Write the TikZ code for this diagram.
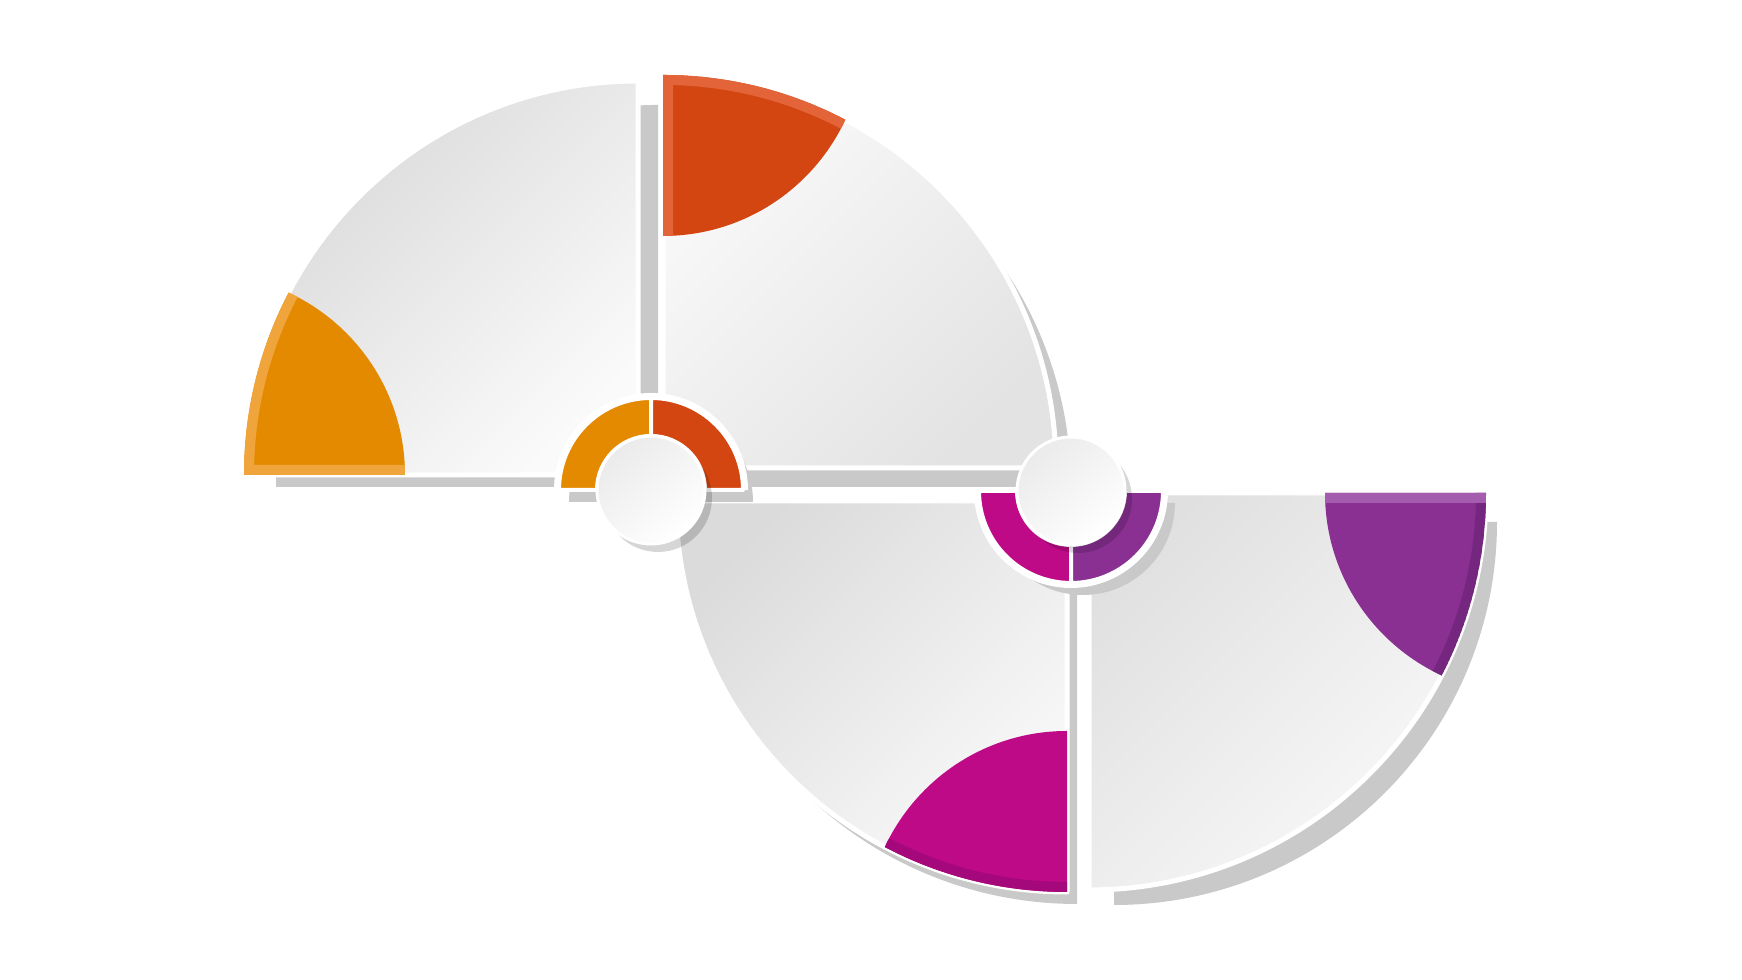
\documentclass[tikz,border=0pt]{standalone}
\usepackage{tikz}
\definecolor{orng}{HTML}{E38A00}
\definecolor{orngrim}{HTML}{F0A43C}
\definecolor{rd}{HTML}{D34511}
\definecolor{rdrim}{HTML}{E4643A}
\definecolor{mgnt}{HTML}{BE0A86}
\definecolor{mgntrim}{HTML}{A5087B}
\definecolor{prpl}{HTML}{8A3093}
\definecolor{prplrim}{HTML}{A35CAE}
\definecolor{prpldark}{HTML}{75277F}
\definecolor{shd}{HTML}{C9C9C9}
% quarters
\def \QA{(638,505) -- (244,505) arc[start angle=180, end angle=90, radius=394] -- cycle}
\def \QB{(663,512) -- (663,905) arc[start angle=90, end angle=0, radius=393] -- cycle}
\def \QC{(1067,479) -- (676,479) arc[start angle=180, end angle=270, radius=391] -- cycle}
\def \QD{(1089,487) -- (1089,90) arc[start angle=270, end angle=360, radius=397] -- cycle}
% their shadows
\def \SA{(658,493) -- (276,493) arc[start angle=180, end angle=90, radius=382] -- cycle}
\def \SB{(681,493) -- (681,883) arc[start angle=90, end angle=0, radius=390] -- cycle}
\def \SC{(1077,466) -- (687,466) arc[start angle=180, end angle=270, radius=390] -- cycle}
\def \SD{(1114,458) -- (1114,75) arc[start angle=270, end angle=360, radius=383] -- cycle}
% colour cuts
\def \CA{(204,505) circle (201)}
\def \CB{(663,945) circle (201)}
\def \CC{(1067,48) circle (201)}
\def \CD{(1526,487) circle (201)}
% hubs
\def \HubL{(651,490) circle (54)}
\def \HubR{(1071,489) circle (54)}
\def \RingL{(559,490) arc[start angle=180, end angle=0, radius=92] -- cycle}
\def \RingR{(979,489) arc[start angle=180, end angle=360, radius=92] -- cycle}
\tikzset{
  panel/.style={draw=white, line width=0.05cm, line join=round},
  rim/.style={line width=0.2cm},
  hub/.style={top color=black!8, bottom color=white, shading angle=40, draw=white, line width=0.03cm},
  hubshadow/.style={black, opacity=.16, shift={(7,-8)}},
  ringpart/.style={draw=white, line width=0.04cm, line join=round}
}

\begin{document}
\begin{tikzpicture}[x=0.01cm, y=0.01cm]
\useasboundingbox (0,0) rectangle (1742,980);
\fill[white] (0,0) rectangle (1742,980);
% shadows
\fill[shd] \SA;
\fill[shd] \SB;
\fill[shd] \SC;
\fill[shd] \SD;
% panels
\shade[panel, top color=black!15, bottom color=black!2, shading angle=45] \QA;
\shade[panel, top color=black!2, bottom color=black!11, shading angle=45] \QB;
\shade[panel, top color=black!14, bottom color=black!2, shading angle=45] \QC;
\shade[panel, top color=black!12, bottom color=black!2, shading angle=45] \QD;
% coloured cuts
\scope
	\clip \QA; % from quarter
	\clip \CA;
	\fill[orng] \QA;
	\draw[orngrim, rim] \QA;
\endscope
\scope
	\clip \QB; % from quarter
	\clip \CB;
	\fill[rd] \QB;
	\draw[rdrim, rim] \QB;
\endscope
\scope
	\clip \QC; % from quarter
	\clip \CC;
	\fill[mgnt] \QC;
	\draw[mgntrim, rim] (676,479) arc[start angle=180, end angle=270, radius=391];
\endscope
\scope
	\clip \QD; % from quarter
	\clip \CD;
	\fill[prpl] \QD;
	\draw[prpldark, rim] (1089,90) arc[start angle=270, end angle=360, radius=397];
	\draw[prplrim, rim] (1089,487) -- (1486,487);
\endscope
% left hub
\fill[shd, shift={(10,-12)}] \RingL;
\fill[white] (554,490) arc[start angle=180, end angle=0, radius=97] -- cycle;
\fill[orng, ringpart] (559,490) arc[start angle=180, end angle=90, radius=92]
	-- (651,544) arc[start angle=90, end angle=180, radius=54] -- cycle;
\fill[rd, ringpart] (651,582) arc[start angle=90, end angle=0, radius=92]
	-- (705,490) arc[start angle=0, end angle=90, radius=54] -- cycle;
\fill[hubshadow] \HubL;
\shade[hub] \HubL;
% right hub
\fill[shd, shift={(12,-12)}] \RingR;
\fill[white] (974,489) arc[start angle=180, end angle=360, radius=97] -- cycle;
\fill[mgnt, ringpart] (979,489) arc[start angle=180, end angle=270, radius=92]
	-- (1071,435) arc[start angle=270, end angle=180, radius=54] -- cycle;
\fill[prpl, ringpart] (1071,397) arc[start angle=270, end angle=360, radius=92]
	-- (1125,489) arc[start angle=0, end angle=-90, radius=54] -- cycle;
\fill[hubshadow] \HubR;
\shade[hub] \HubR;
\end{tikzpicture}
\end{document}
